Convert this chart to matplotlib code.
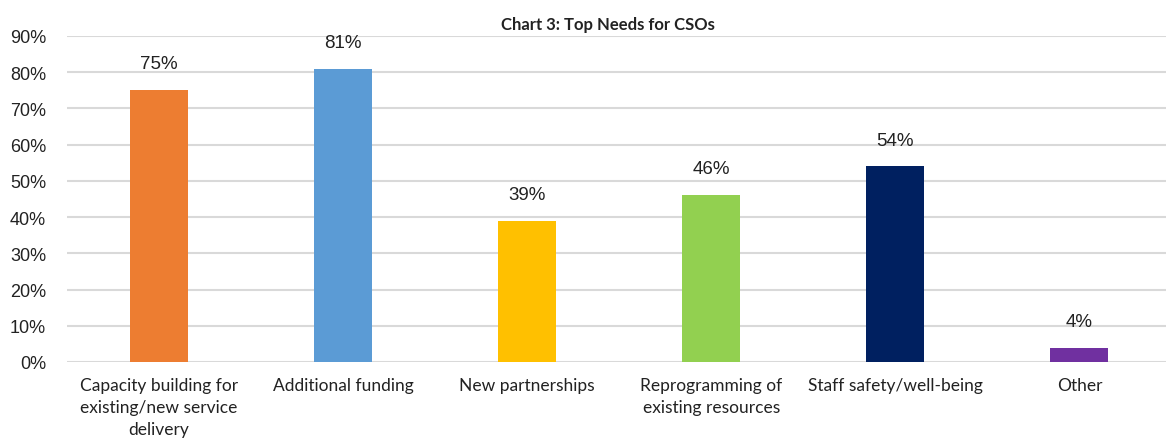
import numpy as np
import matplotlib
matplotlib.use("Agg")
import matplotlib.pyplot as plt

# datos del grafico
Categorias = ["Capacity building for\nexisting/new service\ndelivery",
              "Additional funding",
              "New partnerships",
              "Reprogramming of\nexisting resources",
              "Staff safety/well-being",
              "Other"]
Valores = [75, 81, 39, 46, 54, 4]
Colores = ["#ED7D31", "#5B9BD5", "#FFC000", "#92D050", "#002060", "#7030A0"]
Ticks_y = [0, 10, 20, 30, 40, 50, 60, 70, 80, 90]

fig = plt.figure(figsize=(11.66, 4.39), dpi=100)
ax = fig.add_axes([67/1166, 1 - 363/439, 1 - 67/1166, (363 - 37)/439])

x = np.arange(len(Categorias))
ax.bar(x, Valores, width=0.315, color=Colores, zorder=3)

for xi, v in zip(x, Valores):
    ax.annotate(str(v) + "%", (xi, v), xytext=(0, 19), textcoords="offset points",
                ha="center", va="center", fontsize=13.5, family="Liberation Sans",
                color="#222222")

ax.set_ylim(0, 90)
ax.set_xlim(-0.5, 5.47)
ax.set_yticks(Ticks_y)
ax.set_yticklabels([str(t) + "%" for t in Ticks_y], family="Liberation Sans",
                   fontsize=13, color="#222222")
ax.set_xticks(x)
ax.set_xticklabels(Categorias, family="Lato", fontsize=12.5, color="#222222",
                   linespacing=1.45)
ax.tick_params(axis="both", length=0)
ax.tick_params(axis="x", pad=11)
ax.tick_params(axis="y", pad=15)
ax.grid(axis="y", color="#D9D9D9", linewidth=1.5, zorder=0)
for s in ax.spines.values():
    s.set_visible(False)

fig.text(608/1166, 1 - 25/439, "Chart 3: Top Needs for CSOs", ha="center", va="center",
         fontsize=12, fontweight="bold", family="Lato", color="#222222")

fig.savefig("out.png", dpi=100)
